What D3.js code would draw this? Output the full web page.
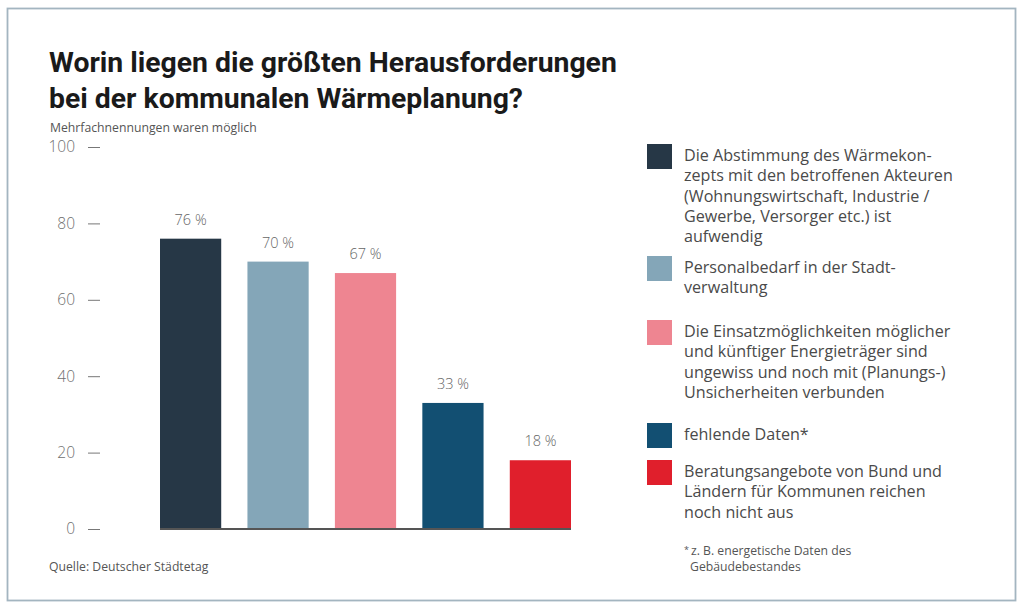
<!DOCTYPE html>
<html lang="de">
<head>
<meta charset="UTF-8">
<title>Kommunale Wärmeplanung</title>
<script src="https://d3js.org/d3.v7.min.js"></script>
<style>
    body { margin: 0; background: #fff; }
    svg { display: block; }
    .title { font-family: "Roboto", sans-serif; font-weight: 700; fill: #1a1a1a; }
    .small { font-family: "Open Sans", sans-serif; fill: #555; }
    .tick text { font-family: "Open Sans", sans-serif; font-size: 15.5px; font-weight: 300; fill: #6f6f6f; }
    .value { font-family: "Open Sans", sans-serif; font-size: 14.5px; font-weight: 300; fill: #666; }
    .legend text { font-family: "Open Sans", sans-serif; fill: #4a4a4a; }
</style>
</head>
<body>
<svg width="1024" height="608"></svg>
<script>
// data
const categories = ["Abstimmung", "Personalbedarf", "Einsatzmöglichkeiten", "fehlende Daten", "Beratungsangebote"];
const values = [76, 70, 67, 33, 18];
const colors = ["#263746", "#84a6b8", "#ee8591", "#124f72", "#e01f2c"];
const yTicks = [0, 20, 40, 60, 80, 100];
const legendLines = [
    ["Die Abstimmung des Wärmekon-", "zepts mit den betroffenen Akteuren", "(Wohnungswirtschaft, Industrie /", "Gewerbe, Versorger etc.) ist", "aufwendig"],
    ["Personalbedarf in der Stadt-", "verwaltung"],
    ["Die Einsatzmöglichkeiten möglicher", "und künftiger Energieträger sind", "ungewiss und noch mit (Planungs-)", "Unsicherheiten verbunden"],
    ["fehlende Daten*"],
    ["Beratungsangebote von Bund und", "Ländern für Kommunen reichen", "noch nicht aus"]
];
const titleLines = ["Worin liegen die größten Herausforderungen", "bei der kommunalen Wärmeplanung?"];

const svg = d3.select("svg");

// scale a text's font so that it spans the given width
function fit(sel, size, width) {
    sel.attr("font-size", size);
    const w = sel.node().getComputedTextLength();
    return size * width / w;
}

// frame
svg.append("rect")
    .attr("x", 7.5).attr("y", 8.5)
    .attr("width", 1008).attr("height", 592)
    .attr("fill", "none").attr("stroke", "#a3b5c0").attr("stroke-width", 1.8);

// title
const title = svg.append("text").attr("class", "title").attr("font-size", 28);
title.selectAll("tspan")
    .data(titleLines)
    .enter().append("tspan")
    .attr("x", 49)
    .attr("y", (d, i) => 72 + i * 36)
    .text(d => d);
const w0 = title.select("tspan").node().getComputedTextLength();
title.attr("font-size", 28 * 568 / w0);

const sub = svg.append("text").attr("class", "small")
    .attr("x", 50).attr("y", 132)
    .text("Mehrfachnennungen waren möglich");
const smallSize = fit(sub, 11, 207);
sub.attr("font-size", smallSize);

svg.append("text").attr("class", "small")
    .attr("x", 49).attr("y", 571)
    .attr("font-size", smallSize)
    .text("Quelle: Deutscher Städtetag");

// scales
const x = d3.scaleBand().domain(categories).range([160, 571]).paddingInner(0.3).paddingOuter(0);
const y = d3.scaleLinear().domain([0, 100]).range([529, 147]);

// y axis with short dashes as ticks
const yAxis = svg.append("g")
    .attr("transform", "translate(100,0)")
    .call(d3.axisLeft(y).tickValues(yTicks).tickSize(12).tickPadding(13));
yAxis.select(".domain").remove();
yAxis.selectAll(".tick line").attr("stroke", "#777").attr("stroke-width", 1);

// bars
svg.selectAll(".bar")
    .data(categories)
    .enter().append("rect")
    .attr("class", "bar")
    .attr("x", d => x(d))
    .attr("y", (d, i) => y(values[i]))
    .attr("width", x.bandwidth())
    .attr("height", (d, i) => y(0) - y(values[i]))
    .attr("fill", (d, i) => colors[i]);

svg.selectAll(".value")
    .data(categories)
    .enter().append("text")
    .attr("class", "value")
    .attr("x", d => x(d) + x.bandwidth() / 2)
    .attr("y", (d, i) => y(values[i]) - 14)
    .attr("text-anchor", "middle")
    .text((d, i) => values[i] + " %");

// baseline
svg.append("line")
    .attr("x1", x.range()[0]).attr("x2", x.range()[1])
    .attr("y1", y(0)).attr("y2", y(0))
    .attr("stroke", "#555").attr("stroke-width", 2);

// legend
const legendTop = [144, 256, 320, 423, 460];
const lineH = 20.3;
const legend = svg.append("g").attr("class", "legend");
legendLines.forEach((lines, i) => {
    const g = legend.append("g").attr("transform", "translate(647," + legendTop[i] + ")");
    g.append("rect").attr("width", 25).attr("height", 25).attr("fill", colors[i]);
    g.selectAll("text")
        .data(lines)
        .enter().append("text")
        .attr("x", 37)
        .attr("y", (d, j) => 17 + j * lineH)
        .text(d => d);
});
const probe = legend.selectAll("text").filter(d => d === legendLines[0][1]);
const legendSize = fit(probe, 15, 269);
legend.selectAll("text").attr("font-size", legendSize);

// footnote
const foot = svg.append("text").attr("class", "small").attr("x", 684).attr("y", 555).attr("font-size", smallSize);
foot.append("tspan").attr("font-size", 9).attr("dy", -2).text("*");
foot.append("tspan").attr("dx", 2).attr("dy", 2).text("z. B. energetische Daten des");
svg.append("text").attr("class", "small").attr("x", 690).attr("y", 571).attr("font-size", smallSize).text("Gebäudebestandes");
</script>
</body>
</html>
